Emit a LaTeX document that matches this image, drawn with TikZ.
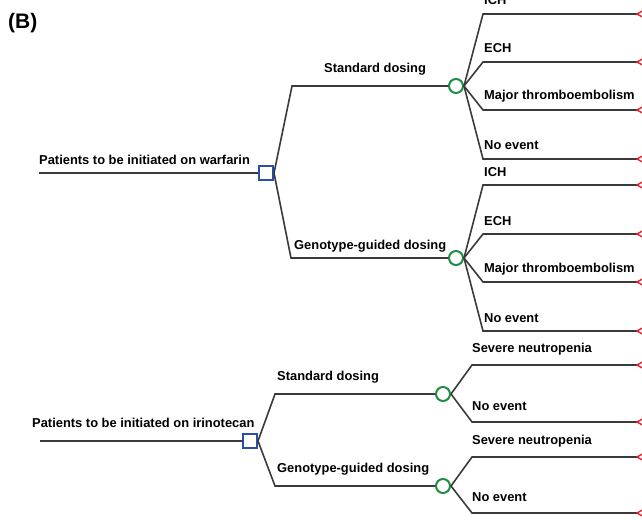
\documentclass[tikz,border=0pt]{standalone}
\usepackage{fontspec}
\setmainfont{Liberation Sans}
\definecolor{linegray}{HTML}{3A3A3A}
\definecolor{decblue}{HTML}{2A4FA8}
\definecolor{chgreen}{HTML}{1E8C46}
\definecolor{termred}{HTML}{E0202A}
\begin{document}
\begin{tikzpicture}[x=1pt,y=-1pt,
  branch/.style={draw=linegray, line width=1.6pt},
  decision/.style={draw=decblue, line width=2pt, rectangle, minimum size=14pt, inner sep=0pt, fill=white},
  chance/.style={draw=chgreen, line width=2pt, circle, minimum size=14pt, inner sep=0pt, fill=white},
  lbl/.style={font=\bfseries\fontsize{12.9}{14}\selectfont, inner sep=0pt, anchor=west, text=black},
  terminal/.style={draw=termred, line width=1.4pt}
]
\useasboundingbox (0,0) rectangle (642,519);
\clip (0,0) rectangle (642,519);

\node[font=\bfseries\fontsize{21}{24}\selectfont, anchor=west, inner sep=0pt] (title) at (8,23) {(B)};

% ---------- warfarin ----------
\coordinate (w0) at (39,173);
\node[decision] (wD) at (266,173) {};
\node[lbl] (wRootL) at (39,160) {Patients to be initiated on warfarin};
\draw[branch] (w0) -- (wD.west);

\coordinate (wSa) at (292,86);
\coordinate (wGa) at (291,258);
\node[chance] (wS) at (456,86) {};
\node[chance] (wG) at (456,258) {};
\draw[branch] (wD.east) -- (wSa) -- (wS.west);
\draw[branch] (wD.east) -- (wGa) -- (wG.west);
\node[lbl] (wSL) at (324,69) {Standard dosing};
\node[lbl] (wGL) at (294,246) {Genotype-guided dosing};

\foreach \i/\yy/\txt in {1/14/ICH, 2/62/ECH, 3/110/Major thromboembolism, 4/159/No event}{
  \coordinate (wS\i) at (483,\yy);
  \coordinate (wS\i e) at (637,\yy);
  \draw[branch] (wS.east) -- (wS\i) -- (wS\i e);
  \draw[terminal] (wS\i e) -- ++(9,-5) -- ++(0,10) -- cycle;
  \node[lbl] (wS\i L) at (484,\yy-14) {\txt};
}
\foreach \i/\yy/\txt in {1/185/ICH, 2/234/ECH, 3/282/Major thromboembolism, 4/331/No event}{
  \coordinate (wG\i) at (483,\yy);
  \coordinate (wG\i e) at (637,\yy);
  \draw[branch] (wG.east) -- (wG\i) -- (wG\i e);
  \draw[terminal] (wG\i e) -- ++(9,-5) -- ++(0,10) -- cycle;
  \node[lbl] (wG\i L) at (484,\yy-13) {\txt};
}

% ---------- irinotecan ----------
\coordinate (i0) at (40,441);
\node[decision] (iD) at (250,441) {};
\node[lbl] (iRootL) at (32,423) {Patients to be initiated on irinotecan};
\draw[branch] (i0) -- (iD.west);

\coordinate (iSa) at (275,394);
\coordinate (iGa) at (275,486);
\node[chance] (iS) at (443,394) {};
\node[chance] (iG) at (443,486) {};
\draw[branch] (iD.east) -- (iSa) -- (iS.west);
\draw[branch] (iD.east) -- (iGa) -- (iG.west);
\node[lbl] (iSL) at (277,377) {Standard dosing};
\node[lbl] (iGL) at (277,469) {Genotype-guided dosing};

\foreach \i/\yy/\txt in {1/365/Severe neutropenia, 2/422/No event}{
  \coordinate (iS\i) at (472,\yy);
  \coordinate (iS\i e) at (637,\yy);
  \draw[branch] (iS.east) -- (iS\i) -- (iS\i e);
  \draw[terminal] (iS\i e) -- ++(9,-5) -- ++(0,10) -- cycle;
  \node[lbl] (iS\i L) at (472,\yy-16) {\txt};
}
\foreach \i/\yy/\txt in {1/457/Severe neutropenia, 2/513/No event}{
  \coordinate (iG\i) at (472,\yy);
  \coordinate (iG\i e) at (637,\yy);
  \draw[branch] (iG.east) -- (iG\i) -- (iG\i e);
  \draw[terminal] (iG\i e) -- ++(9,-5) -- ++(0,10) -- cycle;
  \node[lbl] (iG\i L) at (472,\yy-16) {\txt};
}
\end{tikzpicture}
\end{document}
